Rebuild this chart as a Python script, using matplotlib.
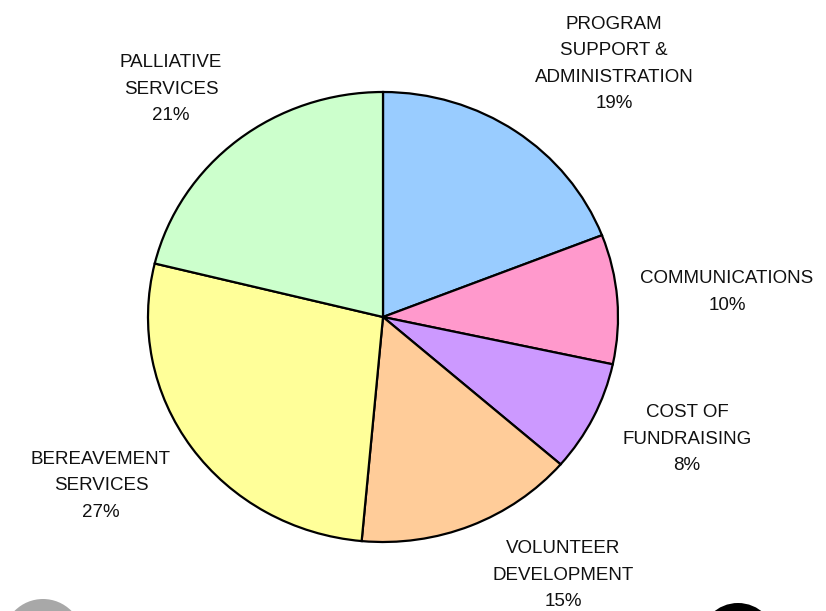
import matplotlib
matplotlib.use("Agg")
import matplotlib.pyplot as plt
from matplotlib.patches import Circle
from matplotlib.transforms import IdentityTransform

# slice data, clockwise from 12 o'clock
categories = ["PROGRAM\nSUPPORT &\nADMINISTRATION", "COMMUNICATIONS", "COST OF\nFUNDRAISING",
              "VOLUNTEER\nDEVELOPMENT", "BEREAVEMENT\nSERVICES", "PALLIATIVE\nSERVICES"]
shares = [19.1, 9.3, 8.0, 15.1, 27.4, 21.2]
pct_labels = ["19%", "10%", "8%", "15%", "27%", "21%"]
colors = ["#99CCFF", "#FF99CC", "#CC99FF", "#FFCC99", "#FFFF99", "#CCFFCC"]

# label anchor (pixel coords of block centre)
label_pos = [(614, 64), (727, 292), (687, 439), (563, 575), (101, 486), (171, 89)]

W, H = 826, 611
yscale = 235 / 225  # pie is slightly wider than tall in the reference

fig = plt.figure(figsize=(W / 100, H / 100), dpi=100)
ax = fig.add_axes([0, 0, 1, 1])
ax.pie(shares, colors=colors, startangle=90, counterclock=False,
       center=(383, (H - 317) * yscale), radius=235,
       wedgeprops=dict(edgecolor="black", linewidth=1.6))
ax.set_xlim(0, W)
ax.set_ylim(0, H * yscale)
ax.set_aspect("auto")
ax.axis("off")

for cat, pct, (px, py) in zip(categories, pct_labels, label_pos):
    fig.text(px / W, 1 - py / H, cat + "\n" + pct, ha="center", va="center",
             fontsize=13.5, family="Liberation Sans", linespacing=1.72, color="#111111")

# partial logos at the bottom corners
fig.add_artist(Circle((43, H - 639), 40, transform=IdentityTransform(),
                      facecolor="#A8A8A8", edgecolor="none"))
fig.add_artist(Circle((738, H - 641), 38, transform=IdentityTransform(),
                      facecolor="black", edgecolor="none"))

fig.savefig("out.png", dpi=100, facecolor="white")
